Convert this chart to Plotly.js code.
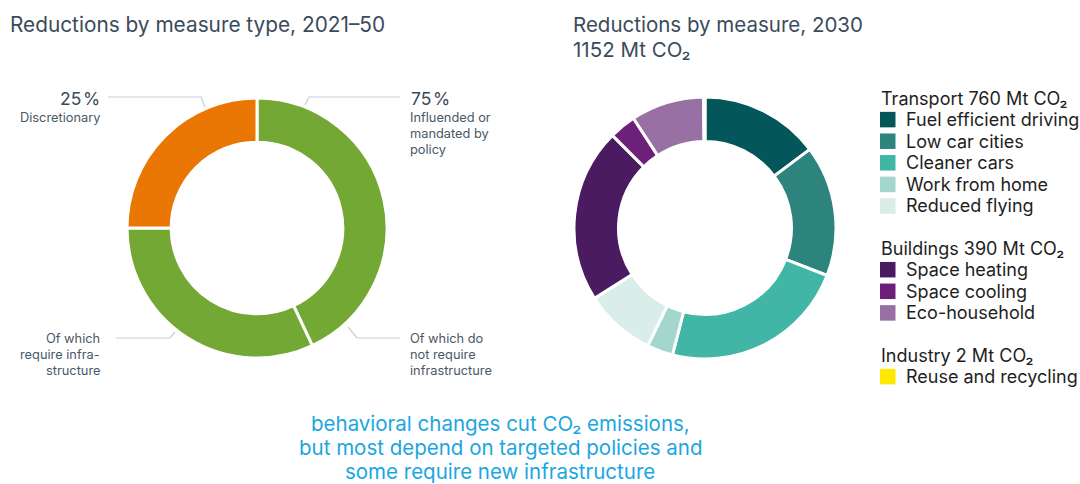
<!DOCTYPE html>
<html>
<head>
<meta charset="utf-8">
<script src="https://cdn.plot.ly/plotly-3.0.1.min.js"></script>
<style>html,body{margin:0;padding:0;background:#fff;}#chart{width:1080px;height:484px;}</style>
</head>
<body>
<div id="chart"></div>
<script>
// ---- data ----
const typeLabels = ['Of which do not require infrastructure', 'Of which require infrastructure', 'Discretionary'];
const typeValues = [43, 32, 25];
const typeColors = ['#72a833', '#72a833', '#ea7703'];

const measureLabels = ['Fuel efficient driving', 'Low car cities', 'Cleaner cars', 'Work from home', 'Reduced flying',
  'Space heating', 'Space cooling', 'Eco-household', 'Reuse and recycling'];
const measureValues = [170, 186, 266, 37, 101, 248, 38, 104, 2];
const measureColors = ['#03575a', '#2c847d', '#42b6a6', '#a3d6cd', '#d9ede9', '#4a1b61', '#6d2079', '#9870a4', '#ffe800'];
const measureSector = [0, 0, 0, 0, 0, 1, 1, 1, 2];
const sectorNames = ['Transport', 'Buildings', 'Industry'];
const sectorTotals = [760, 390, 2];
const totalMt = 1152;

const titleLeft = 'Reductions by measure type, 2021\u201350';
const titleRightLines = ['Reductions by measure, 2030', totalMt + ' Mt CO\u2082'];
const policyLines = ['Influended or', 'mandated by', 'policy'];
const reqLines = ['Of which', 'require infra-', 'structure'];
const noReqLines = ['Of which do', 'not require', 'infrastructure'];
const footnoteLines = ['behavioral changes cut CO\u2082 emissions,', 'but most depend on targeted policies and', 'some require new infrastructure'];

// ---- helpers (pixel -> paper) ----
const W = 1080, H = 484;
const px = x => x / W;
const py = y => 1 - y / H;
const FONT = 'Inter, Roboto, Arial, sans-serif';
const titleColor = '#3b4b5b';
const labelColor = '#4a5866';
const lineColor = '#c9ced6';

const traces = [
  {
    type: 'pie', values: typeValues, labels: typeLabels, sort: false, direction: 'clockwise', rotation: 0,
    hole: 0.66, textinfo: 'none', hoverinfo: 'none', showlegend: false,
    marker: {colors: typeColors, line: {color: '#ffffff', width: 3}},
    domain: {x: [px(127), px(387)], y: [py(358), py(98)]}
  },
  {
    type: 'pie', values: measureValues, labels: measureLabels, sort: false, direction: 'clockwise', rotation: 0,
    hole: 0.66, textinfo: 'none', hoverinfo: 'none', showlegend: false,
    marker: {colors: measureColors, line: {color: '#ffffff', width: 3}},
    domain: {x: [px(574), px(836)], y: [py(359), py(97)]}
  }
];

const annotations = [];
const shapes = [];
function txt(x, y, text, size, color, xa) {
  annotations.push({xref: 'paper', yref: 'paper', x: px(x), y: py(y), text: text, showarrow: false,
    xanchor: xa || 'left', yanchor: 'middle', align: xa || 'left',
    font: {family: FONT, size: size, color: color}, borderpad: 0});
}
function lines(x, y0, step, arr, size, color, xa) {
  arr.forEach((t, i) => txt(x, y0 + i * step, t, size, color, xa));
}
function poly(pts) {
  let d = 'M ' + pts.map(p => px(p[0]) + ',' + py(p[1])).join(' L ');
  shapes.push({type: 'path', xref: 'paper', yref: 'paper', path: d, line: {color: lineColor, width: 1.2}});
}

// titles
txt(9, 24, titleLeft, 20.8, titleColor);
lines(572, 25, 25, titleRightLines, 20.5, titleColor);

// left donut labels
const pct = v => Math.round(v) + '\u200a%';
const discr = typeValues[2];
const policy = typeValues[0] + typeValues[1];
txt(101, 98, pct(discr), 17.5, titleColor, 'right');
txt(101, 117, typeLabels[2], 12.8, labelColor, 'right');
poly([[108, 97], [201, 97], [205, 107]]);

txt(410, 98, pct(policy), 17.5, titleColor, 'left');
lines(409, 118, 15.5, policyLines, 12.8, labelColor, 'left');
poly([[305, 105], [309, 97], [400, 97]]);

lines(101, 338, 16, reqLines, 12.8, labelColor, 'right');
poly([[116, 338], [170, 338], [175, 332]]);

lines(409, 338, 16, noReqLines, 12.8, labelColor, 'left');
poly([[348, 327], [357, 338], [400, 338]]);

// custom grouped legend
const legX = 880, sq = 15.5, itemStep = 21.6;
let y = 98;
sectorNames.forEach((s, si) => {
  txt(legX, y, s + ' ' + sectorTotals[si] + ' Mt CO\u2082', 18, '#1e1e1e', 'left');
  y += itemStep;
  measureLabels.forEach((m, i) => {
    if (measureSector[i] !== si) return;
    shapes.push({type: 'rect', xref: 'paper', yref: 'paper', x0: px(legX), x1: px(legX + sq),
      y0: py(y + sq / 2), y1: py(y - sq / 2), fillcolor: measureColors[i], line: {width: 0}});
    txt(905, y, m, 18, '#1e1e1e', 'left');
    y += itemStep;
  });
  y += 20.5;
});

// footnote
lines(500, 423, 24, footnoteLines, 20.5, '#1ba6df', 'center');

const layout = {
  width: W, height: H, margin: {l: 0, r: 0, t: 0, b: 0},
  paper_bgcolor: '#ffffff', plot_bgcolor: '#ffffff',
  showlegend: false, annotations: annotations, shapes: shapes,
  font: {family: FONT}
};
Plotly.newPlot('chart', traces, layout, {displayModeBar: false, staticPlot: true});
</script>
</body>
</html>
